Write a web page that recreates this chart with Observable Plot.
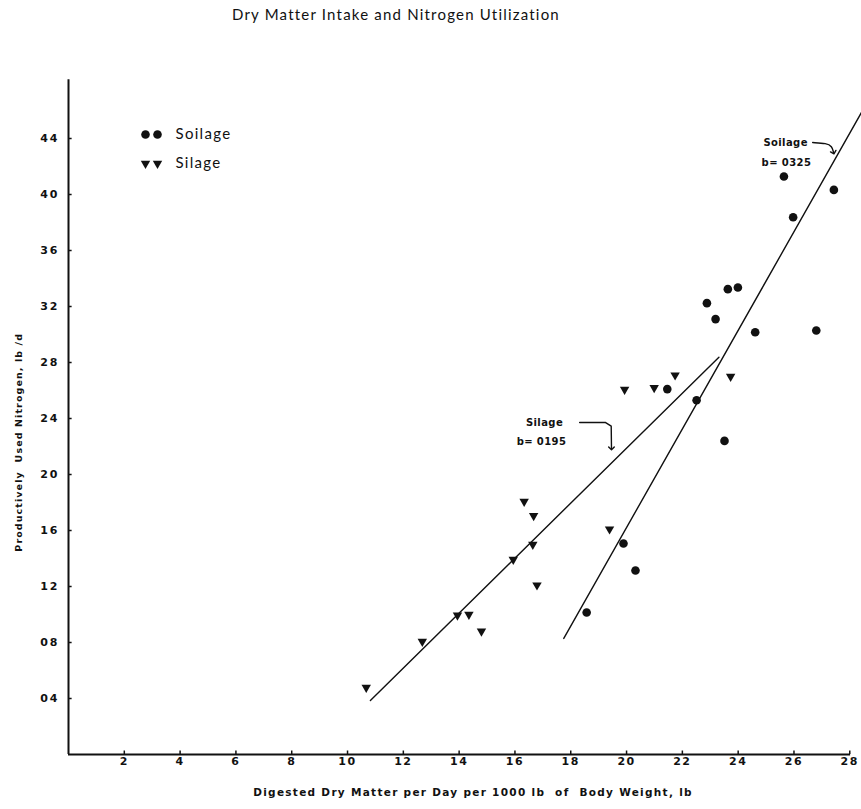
<!DOCTYPE html>
<html>
<head>
<meta charset="utf-8">
<script src="https://cdn.jsdelivr.net/npm/d3@7"></script>
<script src="https://cdn.jsdelivr.net/npm/@observablehq/plot@0.6"></script>
<style>
  html, body { margin: 0; padding: 0; background: #fff; }
  #title { height: 40px; box-sizing: border-box; padding-left: 232px; padding-top: 5px;
           font-family: Lato, "Noto Sans", sans-serif; font-size: 15px; letter-spacing: 1.2px; color: #111; }
</style>
</head>
<body>
<div id="title">Dry Matter Intake and Nitrogen Utilization</div>
<div id="chart"></div>
<script>
// Soilage (circles)
const soilageX = [18.57, 19.89, 20.32, 21.46, 22.51, 22.88, 23.19, 23.51, 23.63, 23.99, 24.61, 25.64, 25.97, 26.80, 27.43];
const soilageY = [10.14, 15.07, 13.14, 26.10, 25.30, 32.24, 31.10, 22.40, 33.24, 33.36, 30.16, 41.29, 38.38, 30.29, 40.33];
// Silage (down triangles)
const silageX = [10.67, 12.68, 13.94, 14.35, 14.80, 15.94, 16.33, 16.64, 16.67, 16.79, 19.39, 19.93, 20.99, 21.74, 23.73];
const silageY = [4.78, 8.07, 9.95, 10.00, 8.80, 13.93, 18.07, 15.00, 17.05, 12.10, 16.10, 26.07, 26.20, 27.10, 27.00];
// Fitted lines (endpoints)
const silageFitX = [10.82, 23.31];
const silageFitY = [3.86, 28.38];
const soilageFitX = [17.75, 28.42];
const soilageFitY = [8.29, 45.86];
// Ticks
const xTicks = [2, 4, 6, 8, 10, 12, 14, 16, 18, 20, 22, 24, 26, 28];
const yTicks = [4, 8, 12, 16, 20, 24, 28, 32, 36, 40, 44];
const yTickLabels = ["04", "08", "12", "16", "20", "24", "28", "32", "36", "40", "44"];
// Texts
const xTitle = "Digested Dry Matter per Day per 1000 lb  of  Body Weight, lb";
const yTitle = "Productively  Used Nitrogen, lb /d";
const annSoilage = ["Soilage", "b= 0325"];
const annSilage = ["Silage", "b= 0195"];
const legendLabels = ["Soilage", "Silage"];

const soilage = soilageX.map((x, i) => ({x, y: soilageY[i]}));
const silage = silageX.map((x, i) => ({x, y: silageY[i]}));
const silageFit = silageFitX.map((x, i) => ({x, y: silageFitY[i]}));
const soilageFit = soilageFitX.map((x, i) => ({x, y: soilageFitY[i]}));

const tickFont = {fontSize: 11, fontWeight: 700, fontFamily: "'DejaVu Sans', sans-serif"};
const annFont = {fontSize: 10, fontWeight: 700, fontFamily: "'DejaVu Sans', sans-serif", fill: "#111"};
const legendFont = {fontSize: 15, fontFamily: "Lato, sans-serif", fill: "#111", textAnchor: "start", lineAnchor: "middle"};

const chart = Plot.plot({
  width: 861,
  height: 769,
  marginLeft: 68,
  marginRight: 0,
  marginTop: 0,
  marginBottom: 55,
  x: {domain: [0, 28.42]},
  y: {domain: [0, 51]},
  style: {background: "#fff", color: "#111"},
  marks: [
    // axis lines
    Plot.ruleY([0], {x1: 0, x2: 28.03, strokeWidth: 2, stroke: "#111"}),
    Plot.ruleX([0], {y1: 0, y2: 48.2, strokeWidth: 2, stroke: "#111"}),
    // inward ticks
    Plot.ruleX(xTicks, {y1: 0, y2: 0.25, strokeWidth: 1.5, stroke: "#111"}),
    Plot.ruleY(yTicks, {x1: 0, x2: 0.13, strokeWidth: 1.5, stroke: "#111"}),
    Plot.axisX({ticks: xTicks, tickSize: 0, tickPadding: 3, label: null, ...tickFont}),
    Plot.axisY({ticks: yTicks, tickSize: 0, tickPadding: 9, label: null,
      tickFormat: d => yTickLabels[yTicks.indexOf(d)], ...tickFont}),
    // axis titles
    Plot.text([xTitle], {
      frameAnchor: "bottom", dx: 8, dy: 38, textAnchor: "middle", lineAnchor: "middle", text: d => d,
      fontSize: 10.5, fontWeight: 700, fontFamily: "'DejaVu Sans', sans-serif", fill: "#111"}),
    Plot.text([yTitle], {
      frameAnchor: "left", y: () => 22.3, dx: -50, rotate: -90, textAnchor: "middle", lineAnchor: "middle", text: d => d,
      fontSize: 9.5, fontWeight: 700, fontFamily: "'DejaVu Sans', sans-serif", fill: "#111"}),
    // fitted lines
    Plot.line(silageFit, {x: "x", y: "y", stroke: "#111", strokeWidth: 1.4}),
    Plot.line(soilageFit, {x: "x", y: "y", stroke: "#111", strokeWidth: 1.4}),
    // points
    Plot.dot(soilage, {x: "x", y: "y", r: 4.3, fill: "#111", stroke: "none"}),
    Plot.dot(silage, {x: "x", y: "y", symbol: "triangle", rotate: 180, r: 3.5, fill: "#111", stroke: "none"}),
    // annotations
    Plot.text([annSoilage[0]], {x: 25.70, y: 43.71, text: d => d, ...annFont}),
    Plot.text([annSoilage[1]], {x: 25.73, y: 42.29, text: d => d, ...annFont}),
    Plot.text([annSilage[0]], {x: 17.06, y: 23.71, text: d => d, ...annFont}),
    Plot.text([annSilage[1]], {x: 16.95, y: 22.36, text: d => d, ...annFont}),
    Plot.line([{x: 26.67, y: 43.71}, {x: 27.17, y: 43.66}, {x: 27.36, y: 43.45}, {x: 27.42, y: 43.0}],
      {x: "x", y: "y", curve: "basis", stroke: "#111", strokeWidth: 1.4, markerEnd: "arrow"}),
    Plot.line([{x: 18.32, y: 23.71}, {x: 19.25, y: 23.71}, {x: 19.45, y: 23.45}, {x: 19.46, y: 21.86}],
      {x: "x", y: "y", curve: "linear", stroke: "#111", strokeWidth: 1.4, markerEnd: "arrow"}),
    // legend
    Plot.dot([0], {frameAnchor: "top-left", dx: 77, dy: 94, r: 4.3, fill: "#111", stroke: "none"}),
    Plot.dot([0], {frameAnchor: "top-left", dx: 89, dy: 94, r: 4.3, fill: "#111", stroke: "none"}),
    Plot.dot([0], {frameAnchor: "top-left", dx: 77, dy: 123, symbol: "triangle", rotate: 180, r: 3.5, fill: "#111", stroke: "none"}),
    Plot.dot([0], {frameAnchor: "top-left", dx: 89, dy: 123, symbol: "triangle", rotate: 180, r: 3.5, fill: "#111", stroke: "none"}),
    Plot.text([legendLabels[0]], {frameAnchor: "top-left", dx: 107, dy: 94, text: d => d, ...legendFont}),
    Plot.text([legendLabels[1]], {frameAnchor: "top-left", dx: 107, dy: 123, text: d => d, ...legendFont})
  ]
});
const sel = d3.select(chart);
sel.selectAll('g[aria-label^="x-axis tick label"] text').style("letter-spacing", "1.5px");
sel.selectAll('g[aria-label^="y-axis tick label"] text').style("letter-spacing", "2px");
sel.selectAll("text").each(function() {
  const t = this.textContent;
  const s = d3.select(this);
  if (t === xTitle) s.style("letter-spacing", "1.3px");
  else if (t === yTitle) s.style("letter-spacing", "1.1px");
  else if (annSoilage.includes(t) || annSilage.includes(t)) {
    if (!this.closest('g[aria-label^="y-axis"]') && !this.closest('g[aria-label^="x-axis"]')) s.style("letter-spacing", "0.4px");
  }
});
// legend text: larger spacing (last two text marks)
const allText = sel.selectAll("text").nodes();
allText.slice(-2).forEach(n => d3.select(n).style("letter-spacing", "1.3px"));
document.getElementById("chart").appendChild(chart);
</script>
</body>
</html>
